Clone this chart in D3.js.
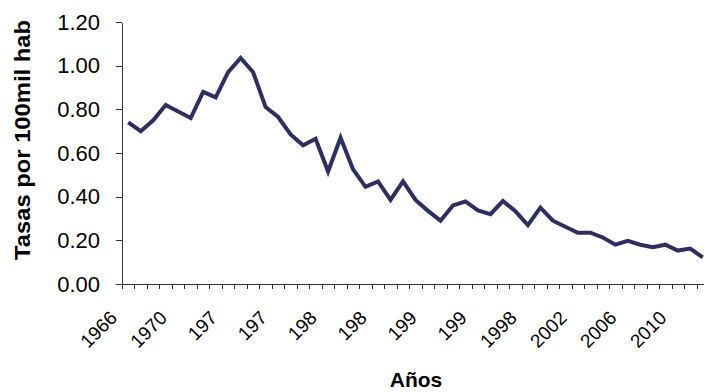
<!DOCTYPE html>
<html>
<head>
<meta charset="utf-8">
<script src="https://cdn.jsdelivr.net/npm/d3@7"></script>
</head>
<body style="margin:0">
<style>
    body { background: #fff; }
    text { font-family: "Liberation Sans", Arial, sans-serif; }
    .axis path, .axis line { stroke: #333; shape-rendering: crispEdges; }
    path.rate { fill: none; stroke: #2d2f63; stroke-width: 4px; stroke-linejoin: miter; }
</style>
<script>

    // years 1966..2012, one category each
    var years = d3.range(1966, 2013);

    var rates = [0.74, 0.70, 0.75, 0.82, 0.79, 0.76, 0.88, 0.855, 0.97, 1.035,
        0.97, 0.81, 0.765, 0.685, 0.635, 0.665, 0.515, 0.67, 0.525, 0.445,
        0.47, 0.385, 0.47, 0.385, 0.335, 0.29, 0.36, 0.378, 0.337, 0.32,
        0.38, 0.333, 0.27, 0.35, 0.29, 0.262, 0.235, 0.235, 0.213, 0.18,
        0.198, 0.18, 0.168, 0.18, 0.153, 0.162, 0.122];

    // labels as they appear under the axis, every 4th category
    var tickLabels = ["1966", "1970", "197", "197", "198", "198", "199", "199",
        "1998", "2002", "2006", "2010"];

    var yTicks = [0, 0.2, 0.4, 0.6, 0.8, 1.0, 1.2];

    var width = 704, height = 392;
    var plotLeft = 122, plotRight = 709, plotTop = 22, plotBottom = 284;

    var svg = d3.select("body").append("svg")
        .attr("width", width)
        .attr("height", height);

    var x = d3.scaleBand()
        .domain(years)
        .range([plotLeft, plotRight])
        .padding(0);

    // boundaries between categories, for the tick marks
    var xEdge = d3.scaleLinear()
        .domain([0, years.length])
        .range([plotLeft, plotRight]);

    var y = d3.scaleLinear()
        .domain([0, 1.2])
        .range([plotBottom, plotTop]);

    svg.append("g")
        .attr("class", "axis")
        .attr("transform", "translate(" + plotLeft + ",0)")
        .call(d3.axisLeft(y)
            .tickValues(yTicks)
            .tickFormat(d3.format(".2f"))
            .tickSize(6)
            .tickSizeOuter(0)
            .tickPadding(16))
        .selectAll("text")
        .style("font-size", "22px")
        .attr("fill", "#000");

    svg.append("g")
        .attr("class", "axis")
        .attr("transform", "translate(0," + plotBottom + ")")
        .call(d3.axisBottom(xEdge)
            .tickValues(d3.range(0, years.length + 1))
            .tickFormat("")
            .tickSize(5)
            .tickSizeOuter(0));

    svg.append("g")
        .selectAll("text")
        .data(tickLabels)
        .enter()
        .append("text")
        .attr("transform", function (d, i) {
            var yr = years[i * 4];
            return "translate(" + (x(yr) + x.bandwidth() / 2 - 10) + ",319) rotate(-45)";
        })
        .attr("text-anchor", "end")
        .style("font-size", "19px")
        .text(function (d) { return d; });

    var line = d3.line()
        .x(function (d, i) { return x(years[i]) + x.bandwidth() / 2; })
        .y(function (d) { return y(d); });

    svg.append("path")
        .attr("class", "rate")
        .datum(rates)
        .attr("d", line);

    svg.append("text")
        .attr("transform", "translate(30,140) rotate(-90)")
        .attr("text-anchor", "middle")
        .attr("textLength", 240)
        .attr("lengthAdjust", "spacingAndGlyphs")
        .style("font-size", "22px")
        .style("font-weight", "bold")
        .text("Tasas por 100mil hab");

    svg.append("text")
        .attr("x", 416)
        .attr("y", 387)
        .attr("text-anchor", "middle")
        .style("font-size", "21px")
        .style("font-weight", "bold")
        .text("Años");

</script>
</body>
</html>
